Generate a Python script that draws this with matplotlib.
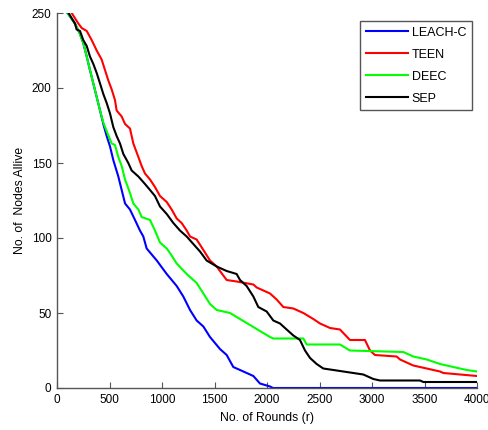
import matplotlib
matplotlib.use("Agg")
import matplotlib.pyplot as plt

plt.rcParams['font.family'] = ['Liberation Sans', 'DejaVu Sans']

# LEACH-C
leach_x = [100, 171, 219, 250, 283, 314, 346, 378, 410, 441, 473, 505, 536, 584, 616, 648, 695, 743,
           790, 822, 854, 950, 1045, 1140, 1203, 1267, 1330, 1394, 1457, 1552, 1616, 1679, 1775, 1870,
           1933, 2029, 2057, 4000]
leach_y = [250, 243, 236, 230, 221, 212, 203, 194, 185, 176, 168, 161, 152, 141, 132, 123, 119, 112,
           105, 101, 93, 85, 76, 68, 61, 52, 45, 41, 34, 26, 22, 14, 11, 8,
           3, 1, 0, 0]

# TEEN
teen_x = [140, 203, 235, 283, 330, 378, 425, 457, 489, 521, 552, 568, 616, 648, 695, 727, 775, 806,
          838, 886, 933, 981, 1045, 1092, 1140, 1187, 1235, 1267, 1330, 1394, 1457, 1521, 1552, 1616,
          1711, 1870, 1902, 2029, 2092, 2155, 2251, 2346, 2441, 2505, 2600, 2695, 2790, 2933, 2981,
          3028, 3235, 3267, 3393, 3457, 3648, 3679, 4000]
teen_y = [250, 243, 240, 238, 232, 225, 219, 212, 205, 199, 192, 185, 181, 176, 173, 163, 154, 148,
          143, 139, 134, 128, 124, 119, 113, 110, 105, 101, 99, 92, 85, 81, 78, 72,
          71, 69, 67, 63, 59, 54, 53, 50, 46, 43, 40, 39, 32, 32, 25,
          22, 21, 19, 15, 14, 11, 10, 8]

# DEEC
deec_x = [100, 171, 219, 250, 283, 314, 346, 378, 410, 441, 480, 521, 552, 584, 616, 648, 695, 727,
          775, 806, 886, 933, 981, 1045, 1076, 1140, 1235, 1330, 1394, 1457, 1521, 1648, 1743, 1838,
          1933, 2029, 2060, 2346, 2378, 2695, 2790, 3298, 3393, 3521, 3648, 3774, 3902, 4000]
deec_y = [250, 243, 236, 230, 221, 212, 203, 194, 185, 177, 170, 163, 162, 154, 148, 139, 130, 123,
          119, 114, 112, 105, 97, 93, 90, 83, 76, 70, 63, 56, 52, 50, 46, 42,
          38, 34, 33, 33, 29, 29, 25, 24, 21, 19, 16, 14, 12, 11]

# SEP
sep_x = [110, 171, 187, 219, 250, 283, 314, 346, 378, 410, 441, 473, 505, 536, 568, 600, 632, 679,
         711, 775, 838, 886, 933, 981, 1045, 1108, 1171, 1235, 1298, 1362, 1425, 1521, 1616, 1711,
         1743, 1806, 1870, 1917, 1997, 2060, 2124, 2187, 2251, 2314, 2362, 2410, 2473, 2536, 2632,
         2822, 2917, 3013, 3076, 3457, 3489, 4000]
sep_y = [250, 243, 239, 238, 232, 228, 221, 216, 210, 203, 196, 190, 183, 174, 168, 163, 156, 150,
         145, 141, 136, 132, 128, 121, 116, 110, 105, 101, 96, 91, 85, 81, 78, 76,
         72, 68, 61, 54, 51, 45, 43, 39, 35, 32, 25, 20, 16, 13, 12,
         10, 9, 6, 5, 5, 4, 4]

fig = plt.figure(figsize=(4.88, 4.30), dpi=100)
ax = fig.add_axes([57 / 488, 42 / 430, 420 / 488, 375 / 430])

ax.plot(leach_x, leach_y, color=(0, 0, 1), lw=1.5, label='LEACH-C')
ax.plot(teen_x, teen_y, color=(1, 0, 0), lw=1.5, label='TEEN')
ax.plot(deec_x, deec_y, color=(0, 1, 0), lw=1.5, label='DEEC')
ax.plot(sep_x, sep_y, color='black', lw=1.5, label='SEP')

ax.set_xlim(0, 4000)
ax.set_ylim(0, 250)
ax.set_xticks([0, 500, 1000, 1500, 2000, 2500, 3000, 3500, 4000])
ax.set_yticks([0, 50, 100, 150, 200, 250])

for side in ['top', 'right']:
    ax.spines[side].set_visible(False)
for side in ['left', 'bottom']:
    ax.spines[side].set_color('#555555')
    ax.spines[side].set_linewidth(1.0)
ax.tick_params(direction='in', length=4, color='#555555', labelsize=8.5, pad=4)

ax.set_xlabel('No. of Rounds (r)', fontsize=8.8, labelpad=5)
ax.set_ylabel('No. of  Nodes Allive', fontsize=8.8, labelpad=4)

leg = ax.legend(loc='upper right', bbox_to_anchor=(472 / 488, 409 / 430), bbox_transform=fig.transFigure,
                borderaxespad=0, fontsize=9, fancybox=False, framealpha=1, edgecolor='#555555',
                handlelength=3.4, handletextpad=0.3, labelspacing=0.8, borderpad=0.45)
leg.get_frame().set_linewidth(1.0)

fig.savefig('out.png', dpi=100)
